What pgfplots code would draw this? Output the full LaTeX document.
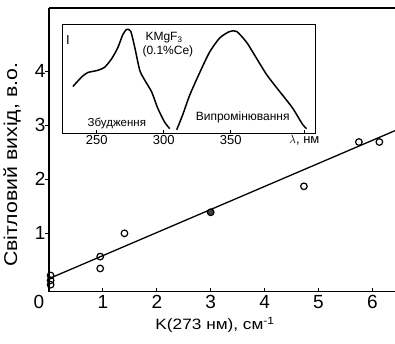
\documentclass[border=0pt]{standalone}
\usepackage{fontspec}
\setmainfont{Liberation Sans}
\newfontfamily\widefont{Liberation Sans}[FakeStretch=1.15]
\usepackage{pgfplots}
\pgfplotsset{compat=1.18}
\begin{document}
\begin{tikzpicture}
\begin{axis}[
  at={(0,0)}, anchor=south west,
  scale only axis, width=346pt, height=283.7pt,
  xmin=0, xmax=6.42, ymin=-0.08, ymax=5.17,
  axis lines*=left,
  axis line style={line width=1.1pt},
  xtick={1,2,3,4,5,6}, ytick={1,2,3,4},
  extra x ticks={0},
  extra x tick style={tick label style={xshift=-10pt}, major tick length=0pt},
  tick align=inside, major tick length=4pt,
  tick style={line width=0.9pt, black},
  y tick style={xshift=-4pt},
  xtick pos=bottom, ytick pos=left,
  /pgf/number format/assume math mode=true,
  tick label style={font=\fontsize{19}{21}\selectfont},
  every axis x label/.style={at={(axis description cs:0.48,-0.117)}, anchor=center},
  every axis y label/.style={at={(axis description cs:-0.107,0.447)}, rotate=90, anchor=center},
  xlabel={\widefont\fontsize{15}{17}\selectfont K(273 нм), см\textsuperscript{-1}},
  ylabel={\widefont\fontsize{18.5}{20}\selectfont Світловий вихід, в.о.},
  clip=false,
]
\addplot[black, line width=1.3pt] coordinates {(0.02,0.17) (6.42,2.9)};
\addplot[only marks, mark=o, mark size=3.3pt, mark options={line width=1.2pt, black, fill=white}] coordinates {
(0.03,0.22) (0.03,0.13) (0.03,0.05)
(0.95,0.57) (0.95,0.35)
(1.4,1.0)
(4.73,1.87)
(5.75,2.69) (6.13,2.69)
};
\addplot[only marks, mark=*, mark size=3.3pt, mark options={line width=1.2pt, black, fill=black!75}] coordinates {(3,1.39)};
\draw[line width=1.1pt] (rel axis cs:0,1) -- (rel axis cs:1,1);
\end{axis}
\begin{axis}[
  at={(13pt,158.7pt)}, anchor=south west,
  scale only axis, width=253pt, height=108pt,
  xmin=224, xmax=413, ymin=0, ymax=1,
  axis line style={line width=1pt},
  xtick={250,300,350,405},
  xticklabels={250,300,350,{$\lambda$, нм}},
  ytick=\empty,
  xtick pos=bottom,
  tick align=inside, major tick length=3pt,
  tick style={line width=0.8pt, black},
  /pgf/number format/assume math mode=true,
  tick label style={font=\fontsize{13}{15}\selectfont},
  xticklabel style={yshift=1pt},
  clip=false,
  axis background/.style={fill=white},
]
\addplot[black, line width=1.5pt, smooth, tension=0.4] coordinates {
(232.1,0.43) (238.8,0.52) (243.3,0.56) (250.7,0.58) (256,0.61) (261.2,0.69)
(265.7,0.79) (269.4,0.91) (272.4,0.96) (275.4,0.94) (278.4,0.79) (282.1,0.58)
(285.8,0.49) (291,0.38) (295.5,0.23) (300.7,0.10) (304.5,0.04)
};
\addplot[black, line width=1.5pt, smooth, tension=0.4] coordinates {
(309.7,0.03) (314.2,0.17) (319.4,0.35) (326.9,0.56) (334.3,0.75) (341.8,0.88)
(349.3,0.94) (354.5,0.94) (361.9,0.84) (369.4,0.69) (376.9,0.54) (384.3,0.42)
(388.8,0.35) (396.3,0.23) (403.7,0.08) (406.7,0.04)
};
\node[font=\fontsize{13}{15}\selectfont] at (axis cs:228.4,0.86) {I};
\node[font=\fontsize{12}{14}\selectfont, align=left, inner sep=0pt, anchor=west] at (axis cs:284,0.82) {\hspace*{3pt}KMgF\textsubscript{3}\\(0.1\%Ce)};
\node[font=\fontsize{11.5}{13}\selectfont, inner sep=0pt] at (axis cs:265,0.09) {Збудження};
\node[font=\fontsize{12}{14}\selectfont, fill=white, inner sep=1pt] at (axis cs:359,0.14) {Випромінювання};
\end{axis}
\pgfresetboundingbox
\path[use as bounding box] (-49pt,-51.3pt) rectangle (346pt,291.7pt);
\end{tikzpicture}
\end{document}
